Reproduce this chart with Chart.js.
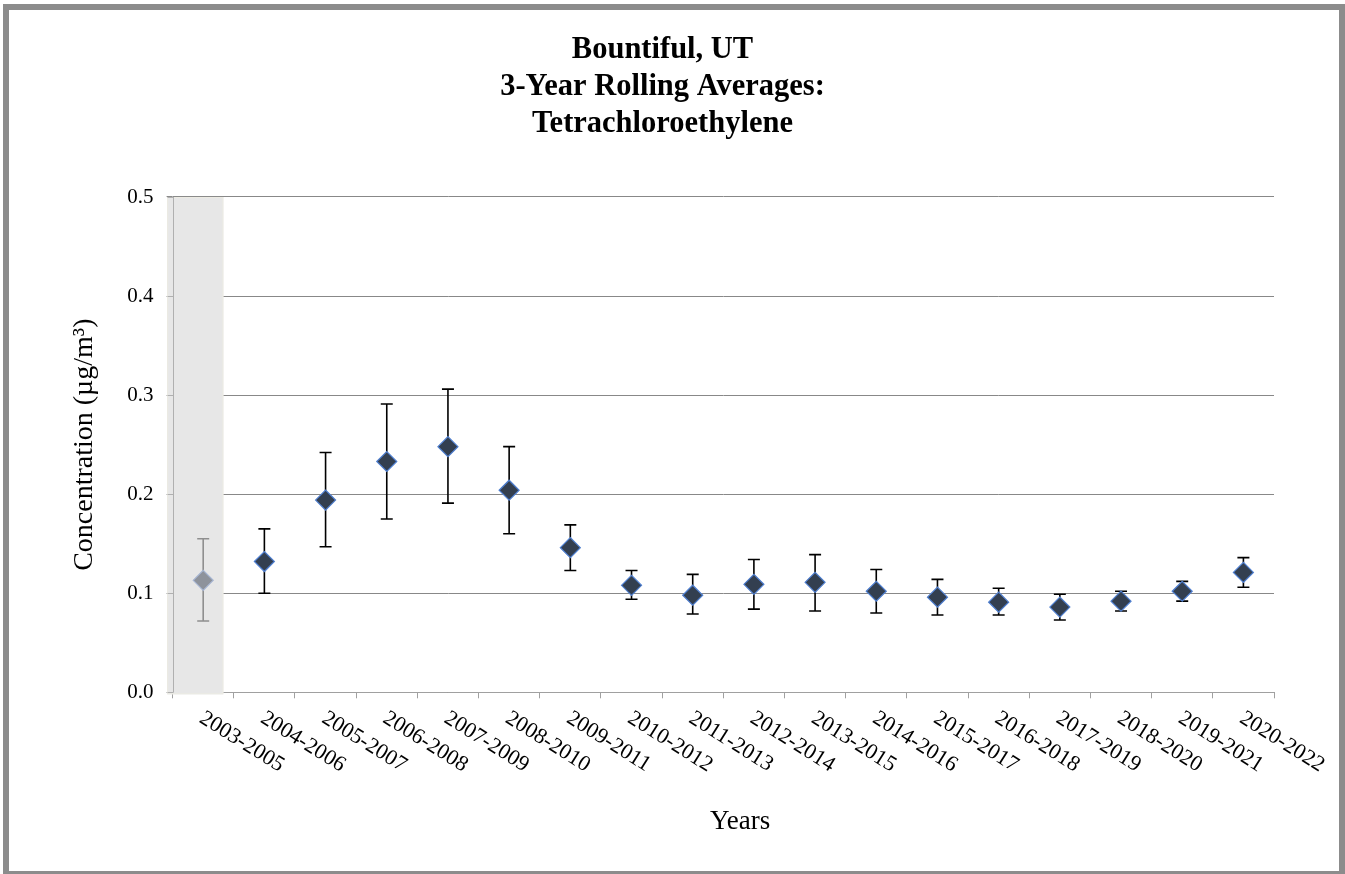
<!DOCTYPE html>
<html>
<head>
<meta charset="utf-8">
<title>Bountiful, UT - Tetrachloroethylene</title>
<script src="https://cdn.jsdelivr.net/npm/chart.js@4.4.1/dist/chart.umd.min.js"></script>
<style>
    html, body { margin: 0; padding: 0; background: #fff; overflow: hidden; }
    #contenedor { position: absolute; left: 0; top: 0; width: 1345px; height: 874px; }
    #marco { position: absolute; left: 3px; top: 4px; width: 1342px; height: 873px;
             border: 6px solid #8c8c8c; box-sizing: border-box; pointer-events: none; }
</style>
</head>
<body>
<div id="contenedor"><canvas id="graficoPromedios"></canvas></div>
<div id="marco"></div>
<script>
// Periodos de 3 años (eje X)
const periodos = [
    '2003-2005', '2004-2006', '2005-2007', '2006-2008', '2007-2009', '2008-2010',
    '2009-2011', '2010-2012', '2011-2013', '2012-2014', '2013-2015', '2014-2016',
    '2015-2017', '2016-2018', '2017-2019', '2018-2020', '2019-2021', '2020-2022'
];

// Promedios móviles (µg/m³) y límites de las barras de error
const promedios      = [0.113, 0.132, 0.194, 0.233, 0.248, 0.204, 0.146, 0.108, 0.098, 0.109, 0.111, 0.102, 0.096, 0.091, 0.086, 0.092, 0.102, 0.121];
const limiteInferior = [0.072, 0.100, 0.147, 0.175, 0.191, 0.160, 0.123, 0.094, 0.079, 0.084, 0.082, 0.080, 0.078, 0.078, 0.073, 0.082, 0.092, 0.106];
const limiteSuperior = [0.155, 0.165, 0.242, 0.291, 0.306, 0.248, 0.169, 0.123, 0.119, 0.134, 0.139, 0.124, 0.114, 0.105, 0.099, 0.102, 0.112, 0.136];

// Periodos con datos incompletos (franja gris)
const periodosSombreados = ['2003-2005'];

// Marcas del eje Y
const ticksY = [0, 0.1, 0.2, 0.3, 0.4, 0.5];

const FUENTE = '"Liberation Serif", "Times New Roman", serif';

function estaSombreado(i) {
    return periodosSombreados.includes(periodos[i]);
}

// Franja gris y barras de error, debajo de los puntos
const franjaYErrores = {
    id: 'franjaYErrores',
    beforeDatasetsDraw(chart) {
        const { ctx, chartArea, scales: { x, y } } = chart;
        const anchoCategoria = (chartArea.right - chartArea.left) / periodos.length;
        ctx.save();

        periodosSombreados.forEach(p => {
            const cx = x.getPixelForValue(periodos.indexOf(p));
            const izq = cx - anchoCategoria * 0.59;
            const der = cx + anchoCategoria * 0.33;
            ctx.fillStyle = '#e7e7e7';
            ctx.fillRect(izq, chartArea.top, der - izq, chartArea.bottom - chartArea.top + 2);
            ctx.strokeStyle = '#ecebe3';
            ctx.lineWidth = 1;
            ctx.strokeRect(izq + 0.5, chartArea.top + 0.5, der - izq - 1, chartArea.bottom - chartArea.top + 1);
        });

        // Línea del eje Y y sus marcas encima de la franja
        const xEje = Math.round(chartArea.left) + 0.5;
        ctx.strokeStyle = '#b0b0b0';
        ctx.lineWidth = 1;
        ctx.beginPath();
        ctx.moveTo(xEje, chartArea.top);
        ctx.lineTo(xEje, chartArea.bottom);
        ticksY.forEach(v => {
            const py = Math.round(y.getPixelForValue(v)) + 0.5;
            ctx.moveTo(xEje - 6, py);
            ctx.lineTo(xEje, py);
        });
        ctx.stroke();

        // Barras de error
        const mediaTapa = 6;
        promedios.forEach((v, i) => {
            const px = x.getPixelForValue(i);
            const yAlto = y.getPixelForValue(limiteSuperior[i]);
            const yBajo = y.getPixelForValue(limiteInferior[i]);
            ctx.strokeStyle = estaSombreado(i) ? '#8f8f8f' : '#000000';
            ctx.lineWidth = 1.6;
            ctx.beginPath();
            ctx.moveTo(px, yAlto);
            ctx.lineTo(px, yBajo);
            ctx.moveTo(px - mediaTapa, yAlto);
            ctx.lineTo(px + mediaTapa, yAlto);
            ctx.moveTo(px - mediaTapa, yBajo);
            ctx.lineTo(px + mediaTapa, yBajo);
            ctx.stroke();
        });
        ctx.restore();
    }
};

// Etiquetas del eje X inclinadas hacia abajo
const etiquetasX = {
    id: 'etiquetasX',
    afterDraw(chart) {
        const { ctx, chartArea, scales: { x } } = chart;
        ctx.save();
        ctx.font = '22px ' + FUENTE;
        ctx.fillStyle = '#000';
        ctx.textAlign = 'left';
        ctx.textBaseline = 'top';
        periodos.forEach((p, i) => {
            const px = x.getPixelForValue(i);
            ctx.save();
            ctx.translate(px + 4, chartArea.bottom + 15);
            ctx.rotate(32 * Math.PI / 180);
            ctx.fillText(p, 0, 0);
            ctx.restore();
        });
        ctx.restore();
    }
};

function mostrarGrafico() {
    const ctx = document.getElementById('graficoPromedios').getContext('2d');
    new Chart(ctx, {
        type: 'line',
        data: {
            labels: periodos,
            datasets: [{
                label: 'Promedio de 3 años',
                data: promedios,
                showLine: false,
                pointStyle: 'rectRot',
                pointRadius: 10,
                pointHoverRadius: 10,
                pointBorderWidth: 1.2,
                pointBackgroundColor: c => estaSombreado(c.dataIndex) ? '#8e939c' : '#333f50',
                pointBorderColor: c => estaSombreado(c.dataIndex) ? '#a7b6d3' : '#4f7fd0'
            }]
        },
        options: {
            responsive: true,
            maintainAspectRatio: false,
            animation: false,
            layout: { padding: { left: 51, right: 71, top: 0, bottom: 0 } },
            plugins: {
                legend: { display: false },
                tooltip: { enabled: false },
                title: {
                    display: true,
                    text: ['Bountiful, UT', '3-Year Rolling Averages:', 'Tetrachloroethylene'],
                    color: '#000',
                    font: { family: FUENTE, size: 30.5, weight: 'bold', lineHeight: 1.213 },
                    padding: { top: 32, bottom: 54 }
                }
            },
            scales: {
                x: {
                    offset: true,
                    grid: { offset: true, drawOnChartArea: false, color: '#a0a0a0', tickLength: 6 },
                    border: { color: '#a0a0a0' },
                    ticks: { display: false },
                    title: {
                        display: true,
                        text: '     Years',
                        color: '#000',
                        font: { family: FUENTE, size: 27 },
                        padding: { top: 0, bottom: 36 }
                    },
                    afterFit: escala => { escala.height = 181.7; }
                },
                y: {
                    min: 0,
                    max: 0.5,
                    afterBuildTicks: escala => { escala.ticks = ticksY.map(v => ({ value: v })); },
                    grid: { color: '#888888', tickLength: 6 },
                    border: { color: '#b0b0b0' },
                    ticks: {
                        color: '#000',
                        padding: 13,
                        font: { family: FUENTE, size: 21 },
                        callback: v => Number(v).toFixed(1)
                    },
                    title: {
                        display: true,
                        text: 'Concentration (µg/m³)',
                        color: '#000',
                        font: { family: FUENTE, size: 28 },
                        padding: { top: 17, bottom: 0 }
                    },
                    afterFit: escala => { escala.width = 121.6; }
                }
            }
        },
        plugins: [franjaYErrores, etiquetasX]
    });
}

document.addEventListener('DOMContentLoaded', mostrarGrafico);
</script>
</body>
</html>
